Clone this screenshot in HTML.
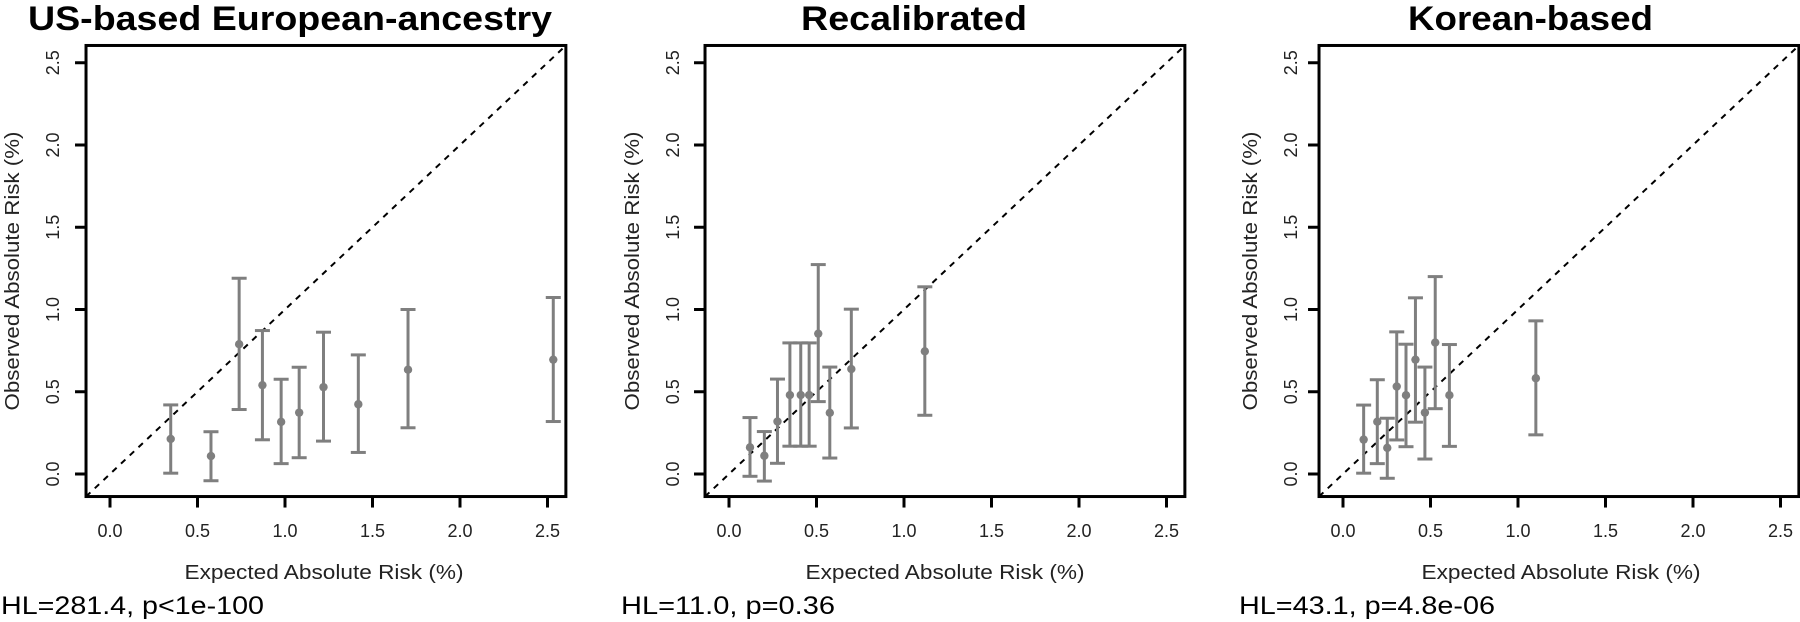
<!DOCTYPE html>
<html><head><meta charset="utf-8">
<style>
html,body{margin:0;padding:0;background:#fff;}
svg{display:block;}
</style></head>
<body>
<svg id="chart" width="1800" height="622" viewBox="0 0 1800 622" xmlns="http://www.w3.org/2000/svg"></svg>
<script>
// Panel 1: US-based European-ancestry
const usExpected = [0.347, 0.577, 0.738, 0.871, 0.978, 1.081, 1.22, 1.419, 1.703, 2.533];
const usObserved = [0.213, 0.109, 0.789, 0.54, 0.317, 0.373, 0.528, 0.424, 0.634, 0.695];
const usUpper    = [0.42, 0.257, 1.19, 0.872, 0.576, 0.649, 0.862, 0.724, 1.0, 1.073];
const usLower    = [0.005, -0.041, 0.392, 0.208, 0.063, 0.099, 0.2, 0.131, 0.281, 0.319];
// Panel 2: Recalibrated
const recExpected = [0.12, 0.202, 0.277, 0.348, 0.41, 0.458, 0.51, 0.576, 0.699, 1.119];
const recObserved = [0.162, 0.111, 0.319, 0.48, 0.48, 0.48, 0.853, 0.372, 0.638, 0.746];
const recUpper    = [0.343, 0.258, 0.577, 0.797, 0.797, 0.797, 1.273, 0.65, 1.002, 1.138];
const recLower    = [-0.014, -0.043, 0.065, 0.169, 0.169, 0.169, 0.44, 0.097, 0.28, 0.357];
// Panel 3: Korean-based
const korExpected = [0.118, 0.196, 0.253, 0.307, 0.36, 0.414, 0.468, 0.527, 0.608, 1.102];
const korObserved = [0.209, 0.318, 0.159, 0.532, 0.479, 0.695, 0.373, 0.799, 0.479, 0.582];
const korUpper    = [0.419, 0.573, 0.339, 0.864, 0.789, 1.071, 0.65, 1.2, 0.787, 0.931];
const korLower    = [0.005, 0.063, -0.026, 0.207, 0.166, 0.315, 0.091, 0.397, 0.168, 0.238];

const tickValues = [0.0, 0.5, 1.0, 1.5, 2.0, 2.5];
const tickLabels = ["0.0", "0.5", "1.0", "1.5", "2.0", "2.5"];
const panelTitles = ["US-based European-ancestry", "Recalibrated", "Korean-based"];
const hlLabels = ["HL=281.4, p<1e-100", "HL=11.0, p=0.36", "HL=43.1, p=4.8e-06"];

const NS = "http://www.w3.org/2000/svg";
const svg = document.getElementById("chart");
function mk(tag, attrs, parent){
  const e = document.createElementNS(NS, tag);
  for (const k in attrs) e.setAttribute(k, attrs[k]);
  (parent || svg).appendChild(e);
  return e;
}

const panels = [
  {x0:110, title:[290,28,524], hl:[0,263], xl:324, yl:11, tl:53, ex:usExpected, ob:usObserved, up:usUpper, lo:usLower},
  {x0:729, title:[914,801,226], hl:[620,214], xl:945, yl:631, tl:673, ex:recExpected, ob:recObserved, up:recUpper, lo:recLower},
  {x0:1343, title:[1530,1408,245], hl:[1238,256], xl:1561, yl:1249, tl:1291, ex:korExpected, ob:korObserved, up:korUpper, lo:korLower}
];
const XS = 175, Y0 = 474, YS = 164.5;
const VMIN = -0.137, VMAX = 2.605;

panels.forEach((p, pi) => {
  const g = mk("g", {});
  
  
  const sx = v => p.x0 + v * XS;
  const sy = v => Y0 - v * YS;

  // title
  const t = mk("text", {x:p.title[1], y:30, "font-family":"Liberation Sans, sans-serif", "font-size":34, "font-weight":"bold", textLength:p.title[2], lengthAdjust:"spacingAndGlyphs", fill:"#000"}, g);
  t.textContent = panelTitles[pi];
  
  

  // dashed identity line
  const dl = mk("line", {x1:sx(VMIN), y1:sy(VMIN), x2:sx(VMAX), y2:sy(VMAX), stroke:"#000", "stroke-width":2, "stroke-dasharray":"6,6"}, g);
  
  

  // error bars & points
  for (let i = 0; i < p.ex.length; i++) {
    const x = sx(p.ex[i]);
    const eb = mk("g", {stroke:"#7f7f7f", "stroke-width":3}, g);
    
    
    mk("line", {x1:x, y1:sy(p.up[i]), x2:x, y2:sy(p.lo[i])}, eb);
    mk("line", {x1:x-7.5, y1:sy(p.up[i]), x2:x+7.5, y2:sy(p.up[i])}, eb);
    mk("line", {x1:x-7.5, y1:sy(p.lo[i]), x2:x+7.5, y2:sy(p.lo[i])}, eb);
    const c = mk("circle", {cx:x, cy:sy(p.ob[i]), r:4.2, fill:"#7f7f7f"}, g);
    
    
  }

  // box
  const box = mk("rect", {x:sx(VMIN), y:sy(VMAX), width:sx(VMAX)-sx(VMIN), height:sy(VMIN)-sy(VMAX), fill:"none", stroke:"#000", "stroke-width":3}, g);
  
  

  // ticks
  tickValues.forEach((v, k) => {
    const xt = mk("line", {x1:sx(v), y1:sy(VMIN), x2:sx(v), y2:sy(VMIN)+11, stroke:"#000", "stroke-width":3}, g);
    
    
    const xl = mk("text", {x:sx(v), y:537, "text-anchor":"middle", "font-family":"Liberation Sans, sans-serif", "font-size":18, fill:"#222"}, g);
    xl.textContent = tickLabels[k];
    
    
    const yt = mk("line", {x1:sx(VMIN), y1:sy(v), x2:sx(VMIN)-11, y2:sy(v), stroke:"#000", "stroke-width":3}, g);
    
    
    const yl = mk("text", {x:0, y:0, transform:"translate(" + (p.tl+6) + "," + sy(v) + ") rotate(-90)", "text-anchor":"middle", "font-family":"Liberation Sans, sans-serif", "font-size":18, fill:"#222"}, g);
    yl.textContent = tickLabels[k];
    
    
  });

  // axis titles
  const xa = mk("text", {x:p.xl, y:579, "text-anchor":"middle", "font-family":"Liberation Sans, sans-serif", "font-size":20, textLength:279, lengthAdjust:"spacingAndGlyphs", fill:"#222"}, g);
  xa.textContent = "Expected Absolute Risk (%)";
  
  
  const ya = mk("text", {x:0, y:0, transform:"translate(" + (p.yl+8) + ",271) rotate(-90)", "text-anchor":"middle", "font-family":"Liberation Sans, sans-serif", "font-size":20, textLength:279, lengthAdjust:"spacingAndGlyphs", fill:"#222"}, g);
  ya.textContent = "Observed Absolute Risk (%)";
  
  

  // HL statistic
  const hl = mk("text", {x:p.hl[0]+1, y:614, "font-family":"Liberation Sans, sans-serif", "font-size":25, textLength:p.hl[1], lengthAdjust:"spacingAndGlyphs", fill:"#000"}, g);
  hl.textContent = hlLabels[pi];
  
  
});
</script>
</body></html>
